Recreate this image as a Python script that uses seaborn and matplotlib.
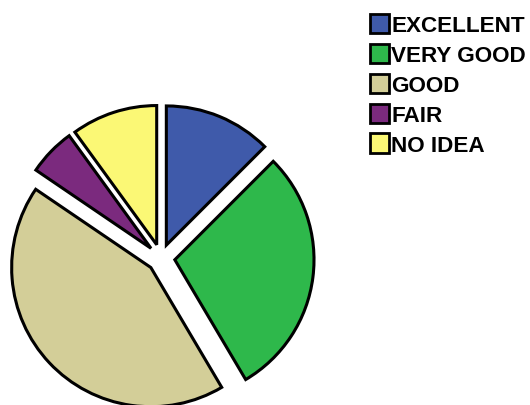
import matplotlib
matplotlib.use("Agg")
import matplotlib.pyplot as plt
import seaborn as sns

categories = ["EXCELLENT", "VERY GOOD", "GOOD", "FAIR", "NO IDEA"]
values = [12.5, 29, 43, 5.5, 10]
colors = ["#3F5AAA", "#2EB84B", "#D3CE98", "#7B2A7E", "#FBF875"]

sns.set_theme(style="white")
plt.rcParams['font.family'] = ['Liberation Sans', 'DejaVu Sans']
plt.rcParams['text.color'] = 'black'

W, H = 530, 406
fig = plt.figure(figsize=(W / 100, H / 100), dpi=100)
fig.patch.set_facecolor("white")

R_PX = 145
L = 1.2
side = 2 * L * R_PX
cx, cy = 161, 259
ax = fig.add_axes([(cx - side / 2) / W, (H - cy - side / 2) / H, side / W, side / H])
ax.set_xlim(-L, L)
ax.set_ylim(-L, L)
ax.set_aspect("equal")
ax.axis("off")

wedges, _ = ax.pie(values, colors=colors, startangle=90, counterclock=False,
                   explode=[0.1] * len(values),
                   wedgeprops=dict(edgecolor="black", linewidth=2.2))
for w in wedges:
    w.set_clip_on(False)

leg = fig.legend(wedges, categories, loc="upper left",
                 bbox_to_anchor=(370 / W, 1 - 15 / H),
                 frameon=False, borderpad=0, borderaxespad=0,
                 handlelength=0.85, handleheight=0.95, handletextpad=0.1,
                 labelspacing=0.33, labelcolor="black",
                 prop=dict(family="Liberation Sans", weight="bold", size=16.2))
for p in leg.get_patches():
    p.set_edgecolor("black")
    p.set_linewidth(2)

fig.savefig("out.png", dpi=100, facecolor="white")
